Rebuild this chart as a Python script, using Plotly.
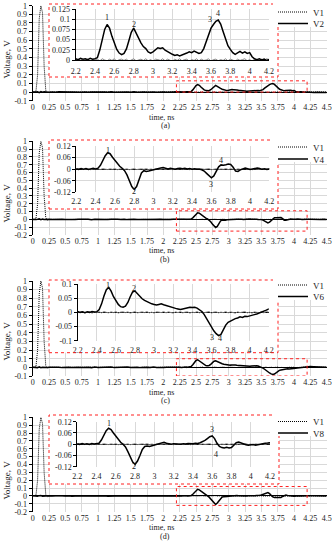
import numpy as np
import plotly.graph_objects as go

W, H = 334, 550
FONT = "Liberation Serif"

# ---------------- data ----------------
# time axis (ns): fine sampling around the input pulse and the zoomed window
t = np.round(np.concatenate([
    np.arange(0, 0.2501, 0.025),
    np.arange(0.3, 2.1501, 0.05),
    np.arange(2.2, 4.2001, 0.025),
    np.arange(4.25, 4.5001, 0.05),
]), 3)

# V1 (input pulse)
v1_a = [0.0, 0.001, 0.01, 0.2, 0.85, 1.0, 0.92, 0.3, 0.02, -0.01, 0.0]
v1_b = [0.001, -0.001, 0.000, 0.002, -0.001, 0.001, -0.002, 0.001, 0.000, 0.002,
        -0.001, 0.001, 0.002, -0.002, 0.000, 0.001, -0.001, 0.002, -0.002, 0.001,
        0.000, -0.001, 0.002, 0.001, -0.002, 0.001, 0.000, -0.001, 0.002, -0.001,
        0.001, 0.000, -0.002, 0.001, 0.002, -0.001, 0.000, 0.001]
v1_c = [0.002, -0.001, 0.003, -0.002, 0.001, 0.002, -0.003, 0.001, -0.001, 0.002,
        -0.002, 0.003, 0.000, -0.002, 0.002, -0.001, 0.003, -0.003, 0.001, 0.002,
        -0.001, 0.002, -0.003, 0.001, 0.003, -0.002, 0.000, 0.002, -0.001, 0.003,
        -0.002, 0.001, -0.003, 0.002, 0.001, -0.001, 0.003, -0.002, 0.002, 0.000,
        -0.003, 0.002, -0.001, 0.003, -0.002, 0.001, 0.002, -0.003, 0.001, -0.001,
        0.003, -0.002, 0.002, -0.001, 0.000, 0.003, -0.003, 0.001, 0.002, -0.002,
        0.001, -0.001, 0.003, -0.002, 0.002, 0.000, -0.003, 0.002, -0.001, 0.001,
        0.003, -0.002, 0.001, -0.003, 0.002, 0.000, -0.001, 0.002, -0.002, 0.003,
        0.001]
v1_d = [0.001, -0.001, 0.002, 0.000, -0.002, 0.001]

# V2
v2_a = [0.002, -0.003, 0.001, 0.004, -0.006, 0.005, -0.002, 0.003, -0.001, 0.002, -0.002]
v2_b = [0.002, -0.002, 0.003, 0.000, -0.003, 0.002, 0.001, -0.002, 0.003, -0.001,
        0.002, -0.003, 0.001, 0.003, -0.002, 0.000, 0.002, -0.003, 0.003, -0.001,
        0.001, 0.003, -0.002, 0.002, -0.001, 0.003, -0.003, 0.001, 0.002, -0.002,
        0.003, 0.000, -0.002, 0.002, 0.001, -0.003, 0.002, 0.001]
v2_c = [0.003, 0.001, 0.004, 0.002, 0.003, 0.001, 0.004, 0.002, 0.003, 0.006,
        0.025, 0.052, 0.075, 0.087, 0.078, 0.058, 0.040, 0.026, 0.017, 0.013,
        0.016, 0.027, 0.047, 0.068, 0.078, 0.066, 0.050, 0.042, 0.033, 0.028,
        0.020, 0.017, 0.020, 0.026, 0.030, 0.028, 0.030, 0.024, 0.020, 0.016,
        0.014, 0.011, 0.013, 0.010, 0.012, 0.014, 0.017, 0.020, 0.018, 0.022,
        0.019, 0.016, 0.018, 0.028, 0.045, 0.062, 0.078, 0.087, 0.095, 0.098,
        0.088, 0.070, 0.050, 0.035, 0.026, 0.018, 0.014, 0.018, 0.021, 0.017,
        0.020, 0.016, 0.018, 0.008, 0.003, 0.001, 0.003, 0.000, 0.002, -0.001,
        0.001]
v2_d = [-0.004, -0.006, -0.003, -0.005, -0.002, -0.004]

# V4
v4_a = [-0.002, 0.003, -0.001, 0.002, 0.006, -0.005, 0.003, -0.002, 0.001, -0.003, 0.002]
v4_b = [-0.001, 0.003, -0.002, 0.002, 0.000, -0.003, 0.003, -0.001, 0.002, -0.002,
        0.001, 0.003, -0.003, 0.002, -0.001, 0.002, 0.000, -0.002, 0.003, -0.002,
        0.002, -0.001, 0.003, -0.003, 0.001, 0.002, -0.002, 0.003, -0.001, 0.000,
        0.002, -0.003, 0.002, 0.001, -0.002, 0.003, -0.001, 0.002]
v4_c = [0.002, -0.002, 0.003, 0.000, 0.003, -0.002, 0.002, 0.004, 0.001, 0.005,
        0.020, 0.045, 0.070, 0.085, 0.080, 0.062, 0.045, 0.030, 0.015, 0.005,
        -0.008, -0.030, -0.060, -0.090, -0.105, -0.090, -0.055, -0.020, -0.008, -0.012,
        -0.010, -0.006, -0.004, 0.000, 0.004, 0.006, 0.008, 0.003, 0.001, 0.004,
        0.002, 0.000, 0.003, 0.005, 0.002, 0.004, 0.001, 0.003, 0.000, 0.002,
        -0.001, 0.001, -0.003, -0.010, -0.022, -0.036, -0.045, -0.035, -0.012, 0.012,
        0.022, 0.020, 0.023, 0.027, 0.024, 0.010, -0.010, -0.012, -0.004, 0.003,
        0.006, 0.002, -0.002, 0.001, 0.004, 0.006, 0.003, -0.001, 0.002, -0.002,
        0.001]
v4_d = [0.002, -0.002, 0.001, -0.001, 0.002, 0.000]

# V6
v6_a = [0.001, -0.002, 0.003, -0.003, 0.005, -0.004, 0.002, -0.001, 0.003, -0.002, 0.001]
v6_b = [0.003, -0.001, 0.002, -0.003, 0.001, 0.002, -0.002, 0.003, 0.000, -0.002,
        0.002, 0.001, -0.003, 0.003, -0.001, 0.002, -0.002, 0.001, 0.003, -0.003,
        0.000, 0.002, -0.001, 0.003, -0.002, 0.001, 0.002, -0.003, 0.002, 0.000,
        -0.001, 0.003, -0.002, 0.002, -0.001, 0.001, 0.003, -0.002]
v6_c = [0.003, 0.000, 0.002, -0.001, 0.002, 0.000, 0.003, 0.001, 0.002, 0.010,
        0.030, 0.058, 0.080, 0.088, 0.075, 0.055, 0.040, 0.028, 0.020, 0.018,
        0.022, 0.035, 0.055, 0.072, 0.075, 0.065, 0.055, 0.048, 0.042, 0.037,
        0.033, 0.030, 0.028, 0.026, 0.028, 0.030, 0.027, 0.024, 0.022, 0.020,
        0.017, 0.014, 0.012, 0.010, 0.012, 0.014, 0.016, 0.018, 0.017, 0.018,
        0.015, 0.010, 0.003, -0.008, -0.022, -0.040, -0.055, -0.065, -0.075, -0.082,
        -0.078, -0.060, -0.045, -0.035, -0.030, -0.025, -0.022, -0.020, -0.016, -0.018,
        -0.014, -0.015, -0.012, -0.010, -0.008, -0.006, -0.003, 0.000, 0.004, 0.008,
        0.012]
v6_d = [0.010, 0.008, 0.006, 0.004, 0.003, 0.002]

# V8
v8_a = [0.002, -0.001, 0.003, -0.002, 0.004, 0.006, -0.003, 0.002, -0.002, 0.001, -0.001]
v8_b = [0.001, 0.003, -0.002, 0.002, -0.001, 0.003, -0.003, 0.001, 0.002, -0.002,
        0.003, 0.000, -0.002, 0.001, 0.003, -0.001, 0.002, -0.003, 0.002, 0.001,
        -0.002, 0.003, -0.001, 0.002, 0.000, -0.003, 0.002, 0.001, -0.002, 0.003,
        -0.001, 0.002, -0.002, 0.003, 0.000, -0.001, 0.002, -0.002]
v8_c = [0.002, -0.001, 0.003, 0.000, 0.002, -0.002, 0.003, 0.001, 0.002, 0.005,
        0.022, 0.048, 0.072, 0.085, 0.078, 0.060, 0.042, 0.025, 0.010, 0.000,
        -0.015, -0.040, -0.070, -0.095, -0.107, -0.090, -0.060, -0.028, -0.012, -0.010,
        -0.012, -0.008, -0.005, -0.002, 0.002, 0.006, 0.010, 0.005, 0.002, 0.000,
        0.003, 0.001, 0.002, 0.000, 0.003, 0.001, 0.004, 0.002, 0.003, 0.005,
        0.004, 0.008, 0.012, 0.020, 0.030, 0.040, 0.044, 0.030, 0.005, -0.012,
        -0.018, -0.020, -0.017, -0.020, -0.018, -0.006, 0.008, 0.012, 0.006, 0.002,
        -0.003, -0.006, -0.004, -0.002, -0.005, -0.002, 0.001, 0.003, 0.005, 0.006,
        0.008]
v8_d = [0.004, 0.002, 0.003, 0.001, 0.002, 0.000]

v1 = v1_a + v1_b + v1_c + v1_d
v2 = v2_a + v2_b + v2_c + v2_d
v4 = v4_a + v4_b + v4_c + v4_d
v6 = v6_a + v6_b + v6_c + v6_d
v8 = v8_a + v8_b + v8_c + v8_d
for s in (v1, v2, v4, v6, v8):
    assert len(s) == len(t), (len(s), len(t))

series_names = ["V2", "V4", "V6", "V8"]
series_vals = [v2, v4, v6, v8]
panel_labels = ["(a)", "(b)", "(c)", "(d)"]

main_xticks = [0, 0.25, 0.5, 0.75, 1, 1.25, 1.5, 1.75, 2, 2.25, 2.5, 2.75, 3, 3.25, 3.5, 3.75, 4, 4.25, 4.5]
main_xlabels = ["0", "0.25", "0.5", "0.75", "1", "1.25", "1.5", "1.75", "2", "2.25", "2.5", "2.75",
                "3", "3.25", "3.5", "3.75", "4", "4.25", "4.5"]
inset_xticks = [2.2, 2.4, 2.6, 2.8, 3.0, 3.2, 3.4, 3.6, 3.8, 4.0, 4.2]
inset_xlabels = ["2.2", "2.4", "2.6", "2.8", "3", "3.2", "3.4", "3.6", "3.8", "4", "4.2"]

main_yticks_a = [-0.1, 0, 0.1, 0.2, 0.3, 0.4, 0.5, 0.6, 0.7, 0.8, 0.9, 1]
main_ylabels_a = ["-0.1", "0", "0.1", "0.2", "0.3", "0.4", "0.5", "0.6", "0.7", "0.8", "0.9", "1"]
main_yticks_b = [-0.2] + main_yticks_a
main_ylabels_b = ["-0.2"] + main_ylabels_a

inset_yticks = [
    [0, 0.025, 0.05, 0.075, 0.1, 0.125],
    [-0.12, -0.06, 0, 0.06, 0.12],
    [-0.1, -0.05, 0, 0.05, 0.1],
    [-0.12, -0.06, 0, 0.06, 0.12],
]
inset_ylabels = [
    ["0", "0.025", "0.05", "0.075", "0.1", "0.125"],
    ["-0.12", "-0.06", "0", "0.06", "0.12"],
    ["-0.1", "-0.05", "0", "0.05", "0.1"],
    ["-0.12", "-0.06", "0", "0.06", "0.12"],
]

# peak markers (label, t, V) per panel
peak_labels = [
    [("1", 2.525, 0.104), ("2", 2.80, 0.088), ("3", 3.59, 0.099), ("4", 3.675, 0.113)],
    [("1", 2.53, 0.097), ("2", 2.80, -0.117), ("3", 3.60, -0.08), ("4", 3.695, 0.044)],
    [("1", 2.515, 0.094), ("2", 2.785, 0.085), ("3", 3.61, -0.09), ("4", 3.69, -0.092)],
    [("1", 2.53, 0.108), ("2", 2.79, -0.117), ("3", 3.595, 0.076), ("4", 3.64, -0.054)],
]

# ---------------- layout geometry (pixels) ----------------
def fx(px):
    return px / W

def fy(py):
    return 1 - py / H

panels = [
    dict(main_y=(5.7, 100.7), inset_x=(75.7, 269), inset_y=(9, 60), rect_x=(49, 278), rect_y=(4, 77),
         yr=(-0.1, 1), iyr=(0, 0.125), mrect=(0, 0.13), xtitle=117, lab=125.5, ytitle=59, leg=(12, 23.5)),
    dict(main_y=(141.3, 235), inset_x=(76.3, 269.3), inset_y=(146, 192.3), rect_x=(49, 278), rect_y=(140, 209),
         yr=(-0.2, 1), iyr=(-0.12, 0.12), mrect=(-0.15, 0.11), xtitle=251, lab=259.5, ytitle=203,
         leg=(147, 159)),
    dict(main_y=(281, 376), inset_x=(77.7, 268.7), inset_y=(284, 340.7), rect_x=(49, 278), rect_y=(280, 352.7),
         yr=(-0.1, 1), iyr=(-0.1, 0.1), mrect=(-0.1, 0.1), xtitle=392, lab=400.5, ytitle=341,
         leg=(285, 296.5)),
    dict(main_y=(417.3, 511.7), inset_x=(77.3, 270), inset_y=(421.7, 466.7), rect_x=(49, 279), rect_y=(415, 484),
         yr=(-0.2, 1), iyr=(-0.12, 0.12), mrect=(-0.12, 0.12), xtitle=527.5, lab=536, ytitle=480,
         leg=(421.5, 433)),
]
MAIN_X = (32.7, 326.7)
GRID = "#d9d9d9"
TXT = "#1a1a1a"

fig = go.Figure()
layout = dict(
    width=W, height=H, margin=dict(l=0, r=0, t=0, b=0, autoexpand=False),
    paper_bgcolor="white", plot_bgcolor="white",
    font=dict(family=FONT, size=8, color=TXT),
    showlegend=True,
)
shapes = []
annotations = []

for i, p in enumerate(panels):
    n_main = i + 1
    n_bg = i + 5
    n_in = i + 9
    sx = "" if n_main == 1 else str(n_main)
    leg1 = "legend" if i == 0 else f"legend{2 * i + 1}"
    leg2 = f"legend{2 * i + 2}"

    # main traces
    fig.add_trace(go.Scatter(x=t, y=v1, mode="lines", name="V1",
                             line=dict(color="black", width=1, dash="1px,1px"),
                             xaxis=f"x{sx}", yaxis=f"y{sx}", legend=leg1))
    fig.add_trace(go.Scatter(x=t, y=series_vals[i], mode="lines", name=series_names[i],
                             line=dict(color="black", width=1.5),
                             xaxis=f"x{sx}", yaxis=f"y{sx}", legend=leg2))
    # background subplot for inset frame
    fig.add_trace(go.Scatter(x=[], y=[], mode="lines", showlegend=False, hoverinfo="skip",
                             xaxis=f"x{n_bg}", yaxis=f"y{n_bg}"))
    # inset traces
    fig.add_trace(go.Scatter(x=t, y=v1, mode="lines", name="V1", showlegend=False,
                             line=dict(color="#888888", width=1),
                             xaxis=f"x{n_in}", yaxis=f"y{n_in}"))
    fig.add_trace(go.Scatter(x=t, y=series_vals[i], mode="lines", name=series_names[i], showlegend=False,
                             line=dict(color="black", width=1.5),
                             xaxis=f"x{n_in}", yaxis=f"y{n_in}"))

    yt, yl = (main_yticks_a, main_ylabels_a) if p["yr"][0] > -0.15 else (main_yticks_b, main_ylabels_b)
    layout[f"xaxis{sx}"] = dict(
        domain=[fx(MAIN_X[0]), fx(MAIN_X[1])], range=[0, 4.5], anchor=f"y{sx}",
        tickvals=main_xticks, ticktext=main_xlabels, showgrid=True, gridcolor=GRID, gridwidth=1,
        zeroline=False, showline=False, ticks="", tickfont=dict(size=8), automargin=False,
    )
    layout[f"yaxis{sx}"] = dict(
        domain=[fy(p["main_y"][1]), fy(p["main_y"][0])], range=list(p["yr"]), anchor=f"x{sx}",
        tickvals=yt, ticktext=yl, showgrid=True, gridcolor=GRID, gridwidth=1,
        zeroline=True, zerolinecolor="black", zerolinewidth=1,
        showline=True, linecolor="black", linewidth=1, ticks="outside", ticklen=3, tickcolor="black",
        tickfont=dict(size=8), automargin=False,
    )
    layout[f"xaxis{n_bg}"] = dict(domain=[fx(p["rect_x"][0]), fx(p["rect_x"][1])], range=[0, 1],
                                  anchor=f"y{n_bg}", visible=False, fixedrange=True)
    layout[f"yaxis{n_bg}"] = dict(domain=[fy(p["rect_y"][1]), fy(p["rect_y"][0])], range=[0, 1],
                                  anchor=f"x{n_bg}", visible=False, fixedrange=True)
    layout[f"xaxis{n_in}"] = dict(
        domain=[fx(p["inset_x"][0]), fx(p["inset_x"][1])], range=[2.2, 4.2], anchor=f"y{n_in}",
        tickvals=inset_xticks, ticktext=inset_xlabels, showgrid=True, gridcolor=GRID, gridwidth=1,
        zeroline=False, showline=(i == 0), linecolor="black", linewidth=1, ticks="",
        tickfont=dict(size=8), automargin=False, ticklabelstandoff=3,
    )
    layout[f"yaxis{n_in}"] = dict(
        domain=[fy(p["inset_y"][1]), fy(p["inset_y"][0])], range=list(p["iyr"]), anchor=f"x{n_in}",
        tickvals=inset_yticks[i], ticktext=inset_ylabels[i], showgrid=True, gridcolor=GRID, gridwidth=1,
        zeroline=True, zerolinecolor="black", zerolinewidth=1,
        showline=True, linecolor="black", linewidth=1, ticks="outside", ticklen=3, tickcolor="black",
        tickfont=dict(size=8), automargin=False,
    )

    # red dashed frame around inset
    shapes.append(dict(type="rect", xref="paper", yref="paper", layer="above",
                       x0=fx(p["rect_x"][0]), x1=fx(p["rect_x"][1]),
                       y0=fy(p["rect_y"][1]), y1=fy(p["rect_y"][0]),
                       line=dict(color="#ff2020", width=1, dash="dot"), fillcolor="rgba(0,0,0,0)"))
    # red dashed frame in main plot marking zoomed window
    shapes.append(dict(type="rect", xref=f"x{sx}", yref=f"y{sx}", layer="above",
                       x0=inset_xticks[0], x1=inset_xticks[-1], y0=p["mrect"][0], y1=p["mrect"][1],
                       line=dict(color="#ff2020", width=1, dash="dot"), fillcolor="rgba(0,0,0,0)"))

    # legends (one per entry so the entries can sit close together)
    layout[leg1] = dict(x=fx(273), y=fy(p["leg"][0]), xanchor="left", yanchor="middle",
                        bgcolor="white", borderwidth=0, itemwidth=30,
                        font=dict(family=FONT, size=9, color=TXT))
    layout[leg2] = dict(x=fx(273), y=fy(p["leg"][1]), xanchor="left", yanchor="middle",
                        bgcolor="rgba(0,0,0,0)", borderwidth=0, itemwidth=30,
                        font=dict(family=FONT, size=9, color=TXT))

    # titles
    annotations.append(dict(text="time, ns", xref="paper", yref="paper", x=fx(161), y=fy(p["xtitle"]),
                            showarrow=False, font=dict(size=8), xanchor="center", yanchor="middle"))
    annotations.append(dict(text=panel_labels[i], xref="paper", yref="paper", x=fx(165), y=fy(p["lab"]),
                            showarrow=False, font=dict(size=8), xanchor="center", yanchor="middle"))
    annotations.append(dict(text="Voltage, V", xref="paper", yref="paper", x=fx(6.5), y=fy(p["ytitle"]),
                            showarrow=False, textangle=-90, font=dict(size=9),
                            xanchor="center", yanchor="middle"))
    for (lab, tx, ty) in peak_labels[i]:
        annotations.append(dict(text=lab, xref=f"x{n_in}", yref=f"y{n_in}", x=tx, y=ty,
                                showarrow=False, font=dict(size=8), xanchor="center", yanchor="middle"))

layout["shapes"] = shapes
layout["annotations"] = annotations
fig.update_layout(**layout)
fig.write_html("out.html", config={"displayModeBar": False},
               post_script="document.body.style.margin='0px';")
